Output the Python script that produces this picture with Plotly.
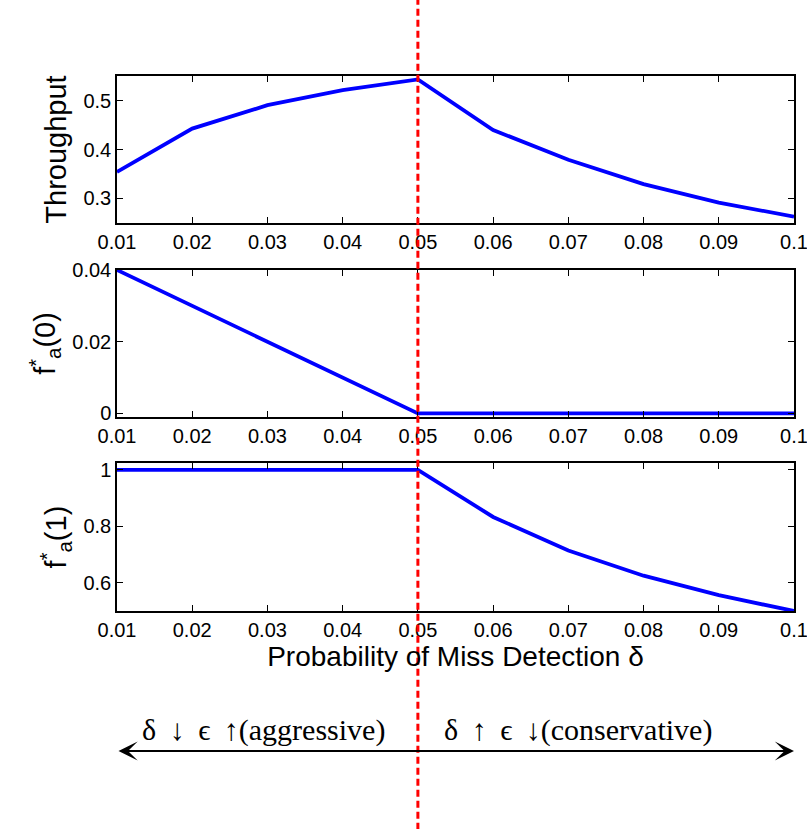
import plotly.graph_objects as go

# ---- data ----
delta = [0.01, 0.02, 0.03, 0.04, 0.05, 0.06, 0.07, 0.08, 0.09, 0.10]
throughput = [0.354, 0.443, 0.491, 0.522, 0.544, 0.440, 0.379, 0.329, 0.291, 0.262]
fa0 = [0.040, 0.030, 0.020, 0.010, 0.0, 0.0, 0.0, 0.0, 0.0, 0.0]
fa1 = [1.0, 1.0, 1.0, 1.0, 1.0, 0.833, 0.714, 0.625, 0.556, 0.500]

x_ticks = [0.01, 0.02, 0.03, 0.04, 0.05, 0.06, 0.07, 0.08, 0.09, 0.1]
x_ticktext = ["0.01", "0.02", "0.03", "0.04", "0.05", "0.06", "0.07", "0.08", "0.09", "0.1"]
y1_ticks = [0.3, 0.4, 0.5]
y1_text = ["0.3", "0.4", "0.5"]
y2_ticks = [0, 0.02, 0.04]
y2_text = ["0", "0.02", "0.04"]
y3_ticks = [0.6, 0.8, 1.0]
y3_text = ["0.6", "0.8", "1"]
threshold = 0.05

BLUE = "#0000ff"
FONT = "Liberation Sans, Arial, Helvetica, sans-serif"
SERIF = "Liberation Serif, Times New Roman, serif"

fig = go.Figure()
for i, ys in enumerate([throughput, fa0, fa1], start=1):
    fig.add_trace(go.Scatter(
        x=delta, y=ys, mode="lines",
        line=dict(color=BLUE, width=3.8),
        xaxis="x" if i == 1 else f"x{i}",
        yaxis="y" if i == 1 else f"y{i}",
        showlegend=False, hoverinfo="skip",
    ))

axis_common = dict(
    showline=True, linecolor="black", linewidth=1.5, mirror="ticks",
    ticks="inside", ticklen=6, tickwidth=1, tickcolor="black",
    showgrid=False, zeroline=False, automargin=False,
    ticklabeloverflow="allow",
    tickfont=dict(family=FONT, size=20, color="black"),
)

domains = {1: [0.7252, 1.0], 2: [0.3626, 0.6374], 3: [0.0, 0.2766]}
yinfo = {
    1: ([0.249, 0.551], y1_ticks, y1_text, "Throughput"),
    2: ([-0.001, 0.040], y2_ticks, y2_text, "f<sup>*</sup><sub>a</sub>(0)"),
    3: ([0.5, 1.024], y3_ticks, y3_text, "f<sup>*</sup><sub>a</sub>(1)"),
}

layout = dict(
    width=807, height=829,
    margin=dict(l=117, r=13, t=76, b=218, autoexpand=False),
    paper_bgcolor="white", plot_bgcolor="white",
    showlegend=False,
)
for i in (1, 2, 3):
    xa = "xaxis" if i == 1 else f"xaxis{i}"
    ya = "yaxis" if i == 1 else f"yaxis{i}"
    yid = "y" if i == 1 else f"y{i}"
    xid = "x" if i == 1 else f"x{i}"
    rng, tv, tt, title = yinfo[i]
    xdict = dict(axis_common, domain=[0, 1], range=[0.01, 0.1],
                 tickvals=x_ticks, ticktext=x_ticktext, anchor=yid)
    if i == 3:
        xdict["title"] = dict(text="Probability of Miss Detection δ",
                              font=dict(family=FONT, size=28, color="black"),
                              standoff=6)
    layout[xa] = xdict
    layout[ya] = dict(axis_common, domain=domains[i], range=rng,
                      tickvals=tv, ticktext=tt, anchor=xid,
                      title=dict(text=title,
                                 font=dict(family=FONT, size=29, color="black"),
                                 standoff=8))
fig.update_layout(**layout)

# red dashed vertical threshold line spanning the whole figure
fig.add_shape(type="line", xref="x3", yref="paper",
              x0=threshold, x1=threshold, y0=-0.45, y1=1.2,
              line=dict(color="#ff0000", width=3, dash="7px,4px"),
              layer="above")

# double-headed arrow along the x range
fig.add_annotation(xref="x3", yref="paper", x=x_ticks[-1], y=-0.2617,
                   axref="x3", ayref="pixel", ax=x_ticks[0], ay=0,
                   text="", showarrow=True, arrowhead=3, arrowside="end+start",
                   arrowsize=1.6, arrowwidth=2, arrowcolor="black")

fig.add_annotation(xref="x3", yref="paper", x=threshold, y=-0.2224,
                   xanchor="right", yanchor="middle", xshift=-31,
                   text="δ\u00a0\u2009↓\u00a0\u2009ϵ\u00a0\u2009↑(aggressive)",
                   showarrow=False, font=dict(family=SERIF, size=30, color="black"))
fig.add_annotation(xref="x3", yref="paper", x=threshold, y=-0.2224,
                   xanchor="left", yanchor="middle", xshift=24,
                   text="δ\u00a0\u2009↑\u00a0\u2009ϵ\u00a0\u2009↓(conservative)",
                   showarrow=False, font=dict(family=SERIF, size=30, color="black"))

fig.write_html("out.html", config={"displayModeBar": False},
               post_script="document.body.style.margin='0';")
